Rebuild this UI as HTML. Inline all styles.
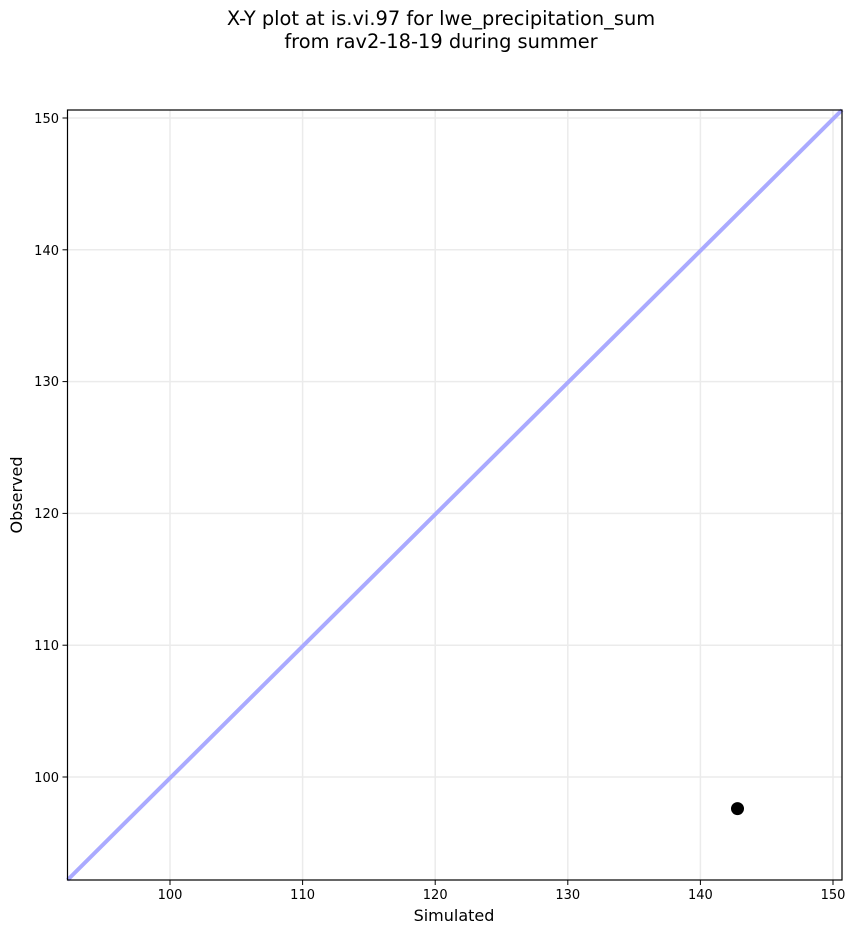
<!DOCTYPE html><html><head><style>body{margin:0;background:#fff}svg{display:block}text{font-family:"DejaVu Sans","Liberation Sans",sans-serif}</style></head><body>
<svg width="856" height="934" xmlns="http://www.w3.org/2000/svg">
<text x="441" y="25" font-size="19.4" text-anchor="middle">X-Y plot at is.vi.97 for lwe_precipitation_sum</text>
<text x="441" y="48" font-size="19.4" text-anchor="middle">from rav2-18-19 during summer</text>
<g stroke="#ebebeb" stroke-width="1.5">
<line x1="170" y1="110" x2="170" y2="880"/><line x1="302.6" y1="110" x2="302.6" y2="880"/><line x1="435.2" y1="110" x2="435.2" y2="880"/><line x1="567.8" y1="110" x2="567.8" y2="880"/><line x1="700.4" y1="110" x2="700.4" y2="880"/><line x1="833" y1="110" x2="833" y2="880"/>
<line x1="67.5" y1="777" x2="842" y2="777"/><line x1="67.5" y1="645.2" x2="842" y2="645.2"/><line x1="67.5" y1="513.4" x2="842" y2="513.4"/><line x1="67.5" y1="381.6" x2="842" y2="381.6"/><line x1="67.5" y1="249.8" x2="842" y2="249.8"/><line x1="67.5" y1="118" x2="842" y2="118"/>
</g>
<line x1="67.5" y1="880" x2="842" y2="110" stroke="#aaaaff" stroke-width="4"/>
<circle cx="737.5" cy="808.6" r="6.5" fill="#000"/>
<rect x="67.5" y="110" width="774.5" height="770" fill="none" stroke="#000" stroke-width="1.2"/>
<g stroke="#000" stroke-width="1">
<line x1="170" y1="880" x2="170" y2="885"/><line x1="302.6" y1="880" x2="302.6" y2="885"/><line x1="435.2" y1="880" x2="435.2" y2="885"/><line x1="567.8" y1="880" x2="567.8" y2="885"/><line x1="700.4" y1="880" x2="700.4" y2="885"/><line x1="833" y1="880" x2="833" y2="885"/>
<line x1="62.5" y1="777" x2="67.5" y2="777"/><line x1="62.5" y1="645.2" x2="67.5" y2="645.2"/><line x1="62.5" y1="513.4" x2="67.5" y2="513.4"/><line x1="62.5" y1="381.6" x2="67.5" y2="381.6"/><line x1="62.5" y1="249.8" x2="67.5" y2="249.8"/><line x1="62.5" y1="118" x2="67.5" y2="118"/>
</g>
<g font-size="13" text-anchor="middle">
<text x="170" y="899">100</text><text x="302.6" y="899">110</text><text x="435.2" y="899">120</text><text x="567.8" y="899">130</text><text x="700.4" y="899">140</text><text x="833" y="899">150</text>
</g>
<g font-size="13" text-anchor="end">
<text x="59" y="782">100</text><text x="59" y="650">110</text><text x="59" y="518">120</text><text x="59" y="386">130</text><text x="59" y="255">140</text><text x="59" y="123">150</text>
</g>
<text x="454" y="921" font-size="16" text-anchor="middle">Simulated</text>
<text transform="translate(22,495) rotate(-90)" font-size="16" text-anchor="middle">Observed</text>
</svg></body></html>
